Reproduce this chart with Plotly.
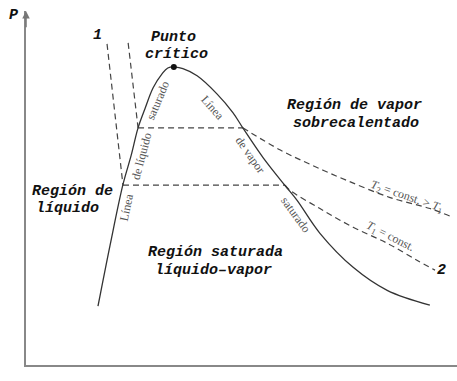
import plotly.graph_objects as go

# Saturation dome (v, P) in arbitrary units
liq_v = [1.67, 1.95, 2.25, 2.44, 2.60, 2.76, 2.95, 3.16, 3.29, 3.43]
liq_P = [1.66, 3.38, 5.10, 5.92, 6.70, 7.24, 7.83, 8.23, 8.39, 8.42]
vap_v = [3.43, 3.64, 3.97, 4.43, 4.80, 5.03, 5.50, 6.01, 6.29, 6.82, 7.59, 8.38, 9.37]
vap_P = [8.42, 8.37, 8.17, 7.66, 7.13, 6.70, 5.86, 5.07, 4.65, 3.72, 2.76, 2.11, 1.69]
crit_v = [3.43]
crit_P = [8.42]

# Isotherms
T2_left_v = [2.37, 2.60]
T2_left_P = [9.10, 6.70]
T2_flat_v = [2.60, 5.03]
T2_flat_P = [6.70, 6.70]
T2_right_v = [5.03, 5.89, 6.66, 7.45, 8.45, 9.37, 9.91]
T2_right_P = [6.70, 6.08, 5.63, 5.21, 4.73, 4.42, 4.17]

T1_left_v = [1.88, 2.25]
T1_left_P = [9.07, 5.08]
T1_flat_v = [2.25, 6.01]
T1_flat_P = [5.08, 5.08]
T1_right_v = [6.01, 6.13, 6.82, 7.59, 8.38, 9.07, 9.49]
T1_right_P = [5.08, 4.93, 4.42, 3.89, 3.44, 2.96, 2.68]

fig = go.Figure()

dash_style = dict(color="#444", width=1.2, dash="6px,4px")
for xs, ys, shape in [(T2_left_v, T2_left_P, "linear"), (T2_flat_v, T2_flat_P, "linear"),
                      (T2_right_v, T2_right_P, "spline"), (T1_left_v, T1_left_P, "linear"),
                      (T1_flat_v, T1_flat_P, "linear"), (T1_right_v, T1_right_P, "spline")]:
    fig.add_trace(go.Scatter(x=xs, y=ys, mode="lines", line=dict(shape=shape, **dash_style),
                             hoverinfo="skip", showlegend=False))

for xs, ys in [(liq_v, liq_P), (vap_v, vap_P)]:
    fig.add_trace(go.Scatter(x=xs, y=ys, mode="lines",
                             line=dict(color="#333", width=1.3, shape="spline", smoothing=1.0),
                             hoverinfo="skip", showlegend=False))

fig.add_trace(go.Scatter(x=crit_v, y=crit_P, mode="markers",
                         marker=dict(color="#111", size=6), hoverinfo="skip", showlegend=False))

bold = dict(family="Liberation Mono", size=15, color="#111", weight="bold", style="italic")
serif = dict(family="Liberation Serif", size=12, color="#555")

big_labels = [
    ("1", 1.67, 9.30),
    ("2", 9.63, 2.68),
    ("Punto", 3.43, 9.24),
    ("crítico", 3.50, 8.76),
    ("Región de vapor", 7.63, 7.32),
    ("sobrecalentado", 7.66, 6.82),
    ("Región de", 1.07, 4.90),
    ("líquido", 0.97, 4.42),
    ("Región saturada", 4.39, 3.18),
    ("líquido–vapor", 4.36, 2.68),
]
for t, x, y in big_labels:
    fig.add_annotation(x=x, y=y, text=t, showarrow=False, font=bold,
                       xanchor="center", yanchor="middle")

# axis title "P" placed left of the y-axis top
fig.add_annotation(x=-0.028, y=0.986, xref="paper", yref="paper", text="P", showarrow=False,
                   font=bold, xanchor="center", yanchor="middle")

curve_labels = [
    ("Línea", 2.34, 4.45, -78),
    ("de líquido", 2.69, 5.89, -75),
    ("saturado", 3.06, 7.49, -67),
    ("Línea", 4.34, 7.27, 48),
    ("de vapor", 5.20, 5.92, 55),
    ("saturado", 6.26, 4.23, 54),
    ("<i>T</i><sub>2</sub> = const. > <i>T</i><sub>1</sub>", 8.84, 4.76, 19),
    ("<i>T</i><sub>1</sub> = const.", 8.45, 3.61, 27),
]
for t, x, y, a in curve_labels:
    fig.add_annotation(x=x, y=y, text=t, showarrow=False, font=serif, textangle=a,
                       xanchor="center", yanchor="middle")

# y-axis arrowhead
fig.add_annotation(x=0, y=10, ax=0, ay=9.5, xref="x", yref="y", axref="x", ayref="y",
                   text="", showarrow=True, arrowhead=2, arrowsize=1, arrowwidth=1.5,
                   arrowcolor="#777")

fig.update_xaxes(range=[0, 10], showline=True, linecolor="#888", linewidth=2,
                 showgrid=False, zeroline=False, showticklabels=False, ticks="")
fig.update_yaxes(range=[0, 10], showline=True, linecolor="#888", linewidth=2,
                 showgrid=False, zeroline=False, showticklabels=False, ticks="")

fig.update_layout(width=457, height=381, margin=dict(l=26, r=0, t=11, b=16),
                  plot_bgcolor="white", paper_bgcolor="white")

fig.write_html("out.html", config={"displayModeBar": False},
               post_script="document.body.style.margin='0';document.body.style.overflow='hidden';")
